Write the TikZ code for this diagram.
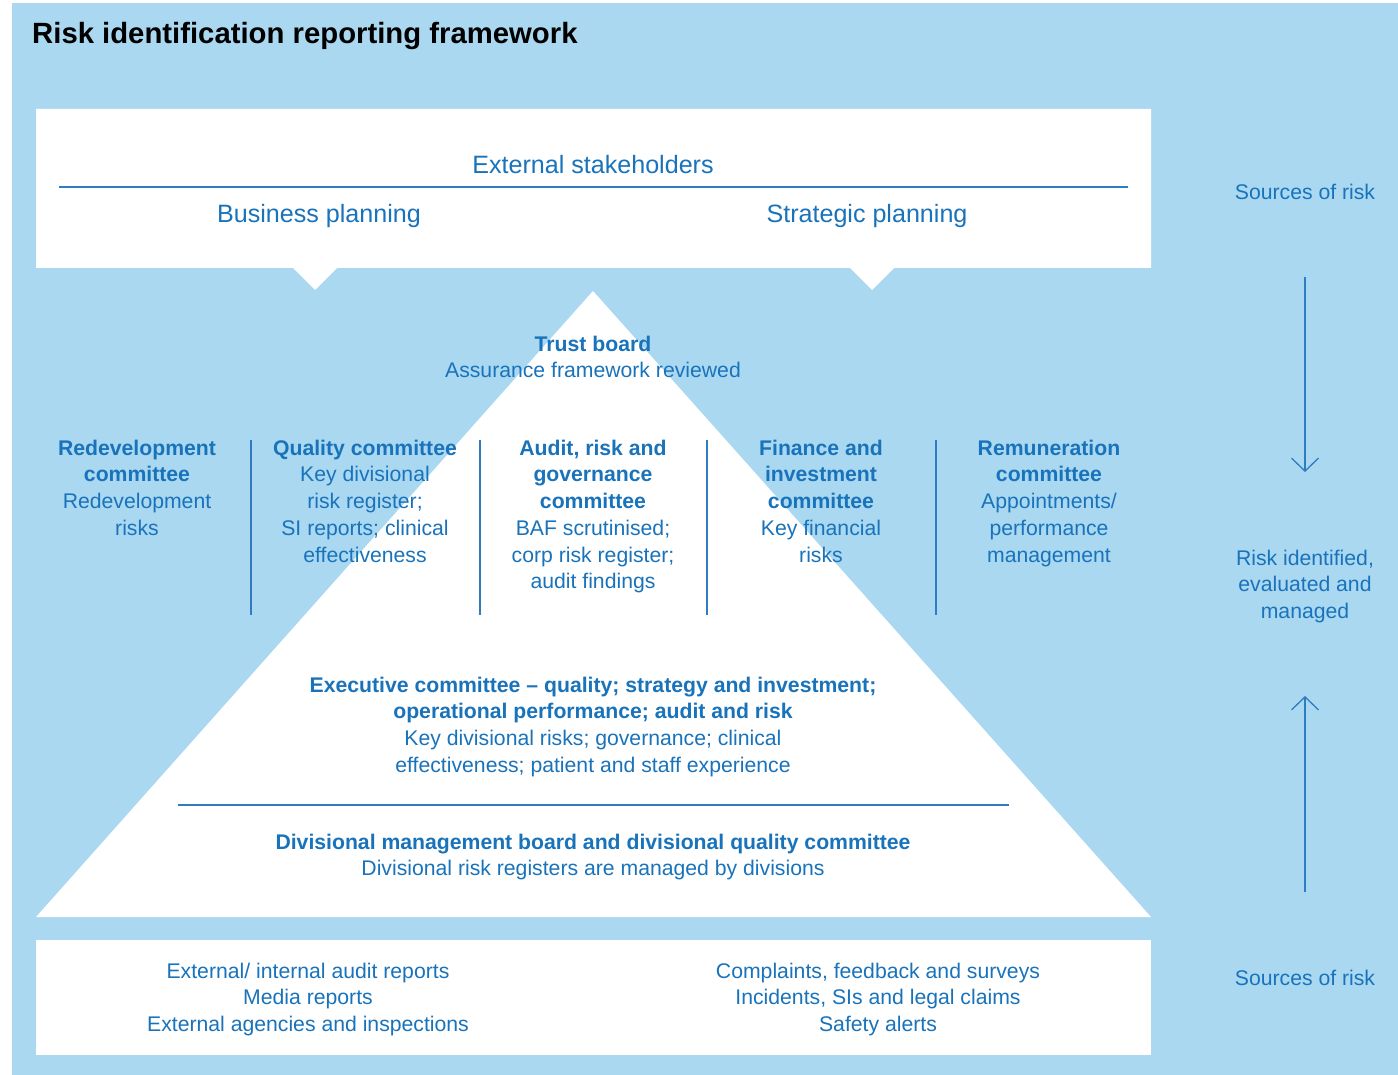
\documentclass[tikz,border=0pt]{standalone}
\usepackage{fontspec}
\setmainfont{Liberation Sans}
\usetikzlibrary{arrows.meta}
\definecolor{bgblue}{RGB}{170,216,241}
\definecolor{txtblue}{RGB}{25,115,187}
\definecolor{lineblue}{RGB}{46,125,192}
\newcommand\fsa{\rule{0pt}{16pt}}
\newcommand\fsb{\rule{0pt}{19pt}}
\begin{document}
\begin{tikzpicture}[x=1pt,y=-1pt,
  lbl/.style={text=txtblue, align=center, anchor=north, inner sep=0pt, font=\fontsize{21.2}{26.7}\selectfont},
  big/.style={lbl, font=\fontsize{25.1}{30}\selectfont},
  divider/.style={draw=lineblue, line width=1.6pt},
  thinline/.style={draw=lineblue, line width=1.2pt},
  flow/.style={draw=lineblue, line width=1.3pt, -{Straight Barb[length=13pt,width=27pt,line width=1.3pt]}}]
\useasboundingbox (0,0) rectangle (1398,1075);
\fill[bgblue] (12,3) rectangle (1398,1075);
% top white box with notches
\fill[white] (36,109) -- (1151,109) -- (1151,268) -- (894,268) -- (872,290) -- (850,268)
  -- (337,268) -- (315,290) -- (293,268) -- (36,268) -- cycle;
% pyramid
\fill[white] (593,291) -- (1151,917) -- (36,917) -- cycle;
% bottom box
\fill[white] (36,940) rectangle (1151,1055);
% lines
\draw[thinline] (59,187) -- (1128,187);
\draw[thinline] (178,805) -- (1009,805);
\foreach \xx in {251,480,707,936} \draw[divider] (\xx,440) -- (\xx,615);
% title
\node[anchor=base west, inner sep=0pt, font=\fontsize{29.3}{34}\selectfont\bfseries] (title) at (32,43.5) {Risk identification reporting framework};
% top box texts
\node[big] (ext) at (593,154) {\fsb External stakeholders};
\node[big] (bus) at (319,203) {\fsb Business planning};
\node[big] (strat) at (867,203) {\fsb Strategic planning};
% trust board
\node[lbl] (trust) at (593,335) {\fsa\textbf{Trust board}\\Assurance framework reviewed};
% committees
\node[lbl] (redev) at (137,439) {\fsa\textbf{Redevelopment}\\\textbf{committee}\\Redevelopment\\risks};
\node[lbl] (quality) at (365,439) {\fsa\textbf{Quality committee}\\Key divisional\\risk register;\\SI reports; clinical\\effectiveness};
\node[lbl] (audit) at (593,439) {\fsa\textbf{Audit, risk and}\\\textbf{governance}\\\textbf{committee}\\BAF scrutinised;\\corp risk register;\\audit findings};
\node[lbl] (finance) at (821,439) {\fsa\textbf{Finance and}\\\textbf{investment}\\\textbf{committee}\\Key financial\\risks};
\node[lbl] (remun) at (1049,439) {\fsa\textbf{Remuneration}\\\textbf{committee}\\Appointments/\\performance\\management};
% executive
\node[lbl] (exec) at (593,676) {\fsa\textbf{Executive committee – quality; strategy and investment;}\\\textbf{operational performance; audit and risk}\\Key divisional risks; governance; clinical\\effectiveness; patient and staff experience};
% divisional
\node[lbl] (div) at (593,833) {\fsa\textbf{Divisional management board and divisional quality committee}\\Divisional risk registers are managed by divisions};
% bottom box
\node[lbl] (botl) at (308,962) {\fsa External/ internal audit reports\\Media reports\\External agencies and inspections};
\node[lbl] (botr) at (878,962) {\fsa Complaints, feedback and surveys\\Incidents, SIs and legal claims\\Safety alerts};
% right column
\node[lbl] (src1) at (1305,183) {\fsa Sources of risk};
\node[lbl] (risk) at (1305,549) {\fsa Risk identified,\\evaluated and\\managed};
\node[lbl] (src2) at (1305,969) {\fsa Sources of risk};
\coordinate (d1) at (1305,277);
\coordinate (d2) at (1305,472);
\coordinate (u1) at (1305,892);
\coordinate (u2) at (1305,696);
\draw[flow] (d1) -- (d2);
\draw[flow] (u1) -- (u2);
\end{tikzpicture}
\end{document}
